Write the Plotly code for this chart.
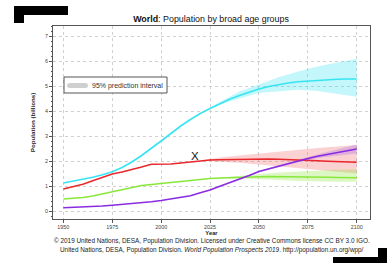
import plotly.graph_objects as go

# ---------------- data (billions) ----------------
years = [1950, 1955, 1960, 1965, 1970, 1975, 1980, 1985, 1990, 1995, 2000,
         2005, 2010, 2015, 2020, 2025, 2030, 2035, 2040, 2045, 2050,
         2055, 2060, 2065, 2070, 2075, 2080, 2085, 2090, 2095, 2100]

age_0_14 = [0.88, 0.97, 1.07, 1.21, 1.36, 1.48, 1.56, 1.65, 1.76, 1.87, 1.87,
            1.88, 1.92, 1.97, 2.02, 2.04, 2.05, 2.06, 2.07, 2.08, 2.09,
            2.08, 2.07, 2.06, 2.05, 2.03, 2.01, 1.99, 1.98, 1.96, 1.95]
age_15_24 = [0.48, 0.50, 0.54, 0.60, 0.69, 0.78, 0.87, 0.95, 1.02, 1.06, 1.10,
             1.16, 1.20, 1.22, 1.26, 1.30, 1.32, 1.34, 1.35, 1.36, 1.37,
             1.38, 1.38, 1.38, 1.38, 1.37, 1.36, 1.35, 1.34, 1.34, 1.33]
age_25_64 = [1.12, 1.19, 1.27, 1.35, 1.45, 1.57, 1.74, 1.96, 2.22, 2.50, 2.80,
             3.10, 3.40, 3.66, 3.90, 4.10, 4.30, 4.47, 4.62, 4.76, 4.88,
             4.98, 5.06, 5.12, 5.17, 5.20, 5.23, 5.25, 5.27, 5.28, 5.28]
age_65_plus = [0.13, 0.14, 0.15, 0.17, 0.20, 0.23, 0.26, 0.29, 0.33, 0.37, 0.42,
               0.48, 0.53, 0.61, 0.73, 0.84, 0.99, 1.13, 1.26, 1.42, 1.58,
               1.69, 1.80, 1.90, 2.00, 2.10, 2.19, 2.27, 2.35, 2.42, 2.48]

# 95% prediction intervals
proj_years = [2020, 2030, 2040, 2050, 2060, 2070, 2080, 2090, 2100]
lo_0_14 = [2.02, 1.97, 1.93, 1.88, 1.80, 1.72, 1.64, 1.57, 1.50]
hi_0_14 = [2.02, 2.14, 2.22, 2.30, 2.38, 2.45, 2.52, 2.58, 2.64]
lo_15_24 = [1.26, 1.30, 1.30, 1.28, 1.24, 1.20, 1.18, 1.17, 1.17]
hi_15_24 = [1.26, 1.34, 1.42, 1.48, 1.54, 1.58, 1.62, 1.65, 1.67]
lo_25_64 = [3.90, 4.26, 4.50, 4.72, 4.80, 4.85, 4.80, 4.70, 4.57]
hi_25_64 = [3.90, 4.36, 4.78, 5.08, 5.35, 5.58, 5.78, 5.94, 6.08]
lo_65_plus = [0.73, 0.98, 1.24, 1.55, 1.76, 1.95, 2.12, 2.22, 2.30]
hi_65_plus = [0.73, 1.00, 1.28, 1.61, 1.84, 2.05, 2.26, 2.46, 2.66]

x_ticks = [1950, 1975, 2000, 2025, 2050, 2075, 2100]
y_ticks = [0, 1, 2, 3, 4, 5, 6, 7]

marker_year = 2017.2
marker_value = 2.2

series = [
    ("0-14", age_0_14, lo_0_14, hi_0_14, "#e8282c", "rgba(240,90,90,0.28)"),
    ("15-24", age_15_24, lo_15_24, hi_15_24, "#88e83a", "rgba(140,230,60,0.30)"),
    ("25-64", age_25_64, lo_25_64, hi_25_64, "#38e4f2", "rgba(40,225,240,0.28)"),
    ("65+", age_65_plus, lo_65_plus, hi_65_plus, "#8a2be2", "rgba(150,90,235,0.28)"),
]

fig = go.Figure()
for name, vals, lo, hi, col, bandcol in series:
    fig.add_trace(go.Scatter(
        x=proj_years + proj_years[::-1], y=hi + lo[::-1],
        fill="toself", fillcolor=bandcol, line=dict(width=0),
        mode="lines", hoverinfo="skip", showlegend=False))
for name, vals, lo, hi, col, bandcol in series:
    fig.add_trace(go.Scatter(x=years, y=vals, mode="lines", name=name,
                             line=dict(color=col, width=1.6), showlegend=False))

# ---------------- layout ----------------
W, H = 387, 263
L, R, T, B = 53, 17, 26, 44
pw, ph = W - L - R, H - T - B


def px(x):
    return (x - L) / pw


def py(y):
    return (H - B - y) / ph


fig.update_layout(
    width=W, height=H,
    margin=dict(l=L, r=R, t=T, b=B),
    paper_bgcolor="white", plot_bgcolor="white",
    font=dict(family="Liberation Sans, Arial, sans-serif", color="#333"),
    title=dict(text="<b>World</b>: Population by broad age groups",
               x=211 / W, xref="container", xanchor="center",
               y=1 - 19 / H, yref="container", yanchor="middle",
               font=dict(size=8.9, color="#111")),
    showlegend=False,
)

fig.update_xaxes(
    range=[1944.7, 2106.8], tickvals=x_ticks, ticks="outside", ticklen=3,
    tickcolor="#555", tickfont=dict(size=5.4, color="#444"),
    showline=True, linecolor="#555", linewidth=1, mirror=True,
    showgrid=True, gridcolor="#d0d0d0", griddash="dot", gridwidth=1,
    zeroline=False,
    title=dict(text="<b>Year</b>", font=dict(size=5.8, color="#222"), standoff=0),
)
fig.update_yaxes(
    range=[-0.32, 7.4], tickvals=y_ticks, ticks="outside", ticklen=3,
    tickcolor="#555", tickfont=dict(size=5.4, color="#444"),
    minor=dict(dtick=0.2, ticks="outside", ticklen=1.5, tickcolor="#555", showgrid=False),
    showline=True, linecolor="#555", linewidth=1, mirror=True,
    showgrid=True, gridcolor="#d0d0d0", griddash="dot", gridwidth=1,
    zeroline=False,
    title=dict(text="<b>Population (billions)</b>", font=dict(size=6.2, color="#222"),
               standoff=8),
)

annotations = [
    dict(text="95% prediction interval", xref="paper", yref="paper",
         x=px(90), y=py(85.5), xanchor="left", yanchor="middle", showarrow=False,
         font=dict(size=7.0, color="#333")),
    dict(text="X", x=marker_year, y=marker_value, xref="x", yref="y",
         showarrow=False, font=dict(size=11.5, color="#111"),
         xanchor="center", yanchor="middle"),
    dict(text="© 2019 United Nations, DESA, Population Division. Licensed under Creative Commons license CC BY 3.0 IGO.",
         xref="paper", yref="paper", x=px(211.5), y=py(241), xanchor="center",
         yanchor="middle", showarrow=False, font=dict(size=6.4, color="#222")),
    dict(text="United Nations, DESA, Population Division. <i>World Population Prospects 2019</i>. http://population.un.org/wpp/",
         xref="paper", yref="paper", x=px(211.5), y=py(249.5), xanchor="center",
         yanchor="middle", showarrow=False, font=dict(size=6.4, color="#222")),
]
fig.update_layout(annotations=annotations)

shapes = [
    # legend box
    dict(type="rect", xref="paper", yref="paper",
         x0=px(64), x1=px(167), y0=py(93), y1=py(77),
         line=dict(color="#555", width=1), fillcolor="white", layer="above"),
    # legend swatch
    dict(type="path", xref="paper", yref="paper",
         path=f"M {px(70)},{py(83)} L {px(85)},{py(83)} "
              f"Q {px(88)},{py(83)} {px(88)},{py(85.5)} Q {px(88)},{py(88)} {px(85)},{py(88)} "
              f"L {px(70)},{py(88)} Q {px(67)},{py(88)} {px(67)},{py(85.5)} "
              f"Q {px(67)},{py(83)} {px(70)},{py(83)} Z",
         line=dict(width=0), fillcolor="#cfcfcf", layer="above"),
    # redaction blocks
    dict(type="rect", xref="paper", yref="paper", x0=px(14), x1=px(68),
         y0=py(15), y1=py(6), fillcolor="black", line=dict(width=0), layer="above"),
    dict(type="rect", xref="paper", yref="paper", x0=px(14), x1=px(24),
         y0=py(23), y1=py(14), fillcolor="black", line=dict(width=0), layer="above"),
    dict(type="rect", xref="paper", yref="paper", x0=px(333), x1=px(390),
         y0=py(266), y1=py(257), fillcolor="black", line=dict(width=0), layer="above"),
    dict(type="rect", xref="paper", yref="paper", x0=px(378), x1=px(390),
         y0=py(266), y1=py(248), fillcolor="black", line=dict(width=0), layer="above"),
]
fig.update_layout(shapes=shapes)

fig.write_html("out.html", config={"displayModeBar": False},
               post_script="document.body.style.margin='0';document.body.style.overflow='hidden';")
